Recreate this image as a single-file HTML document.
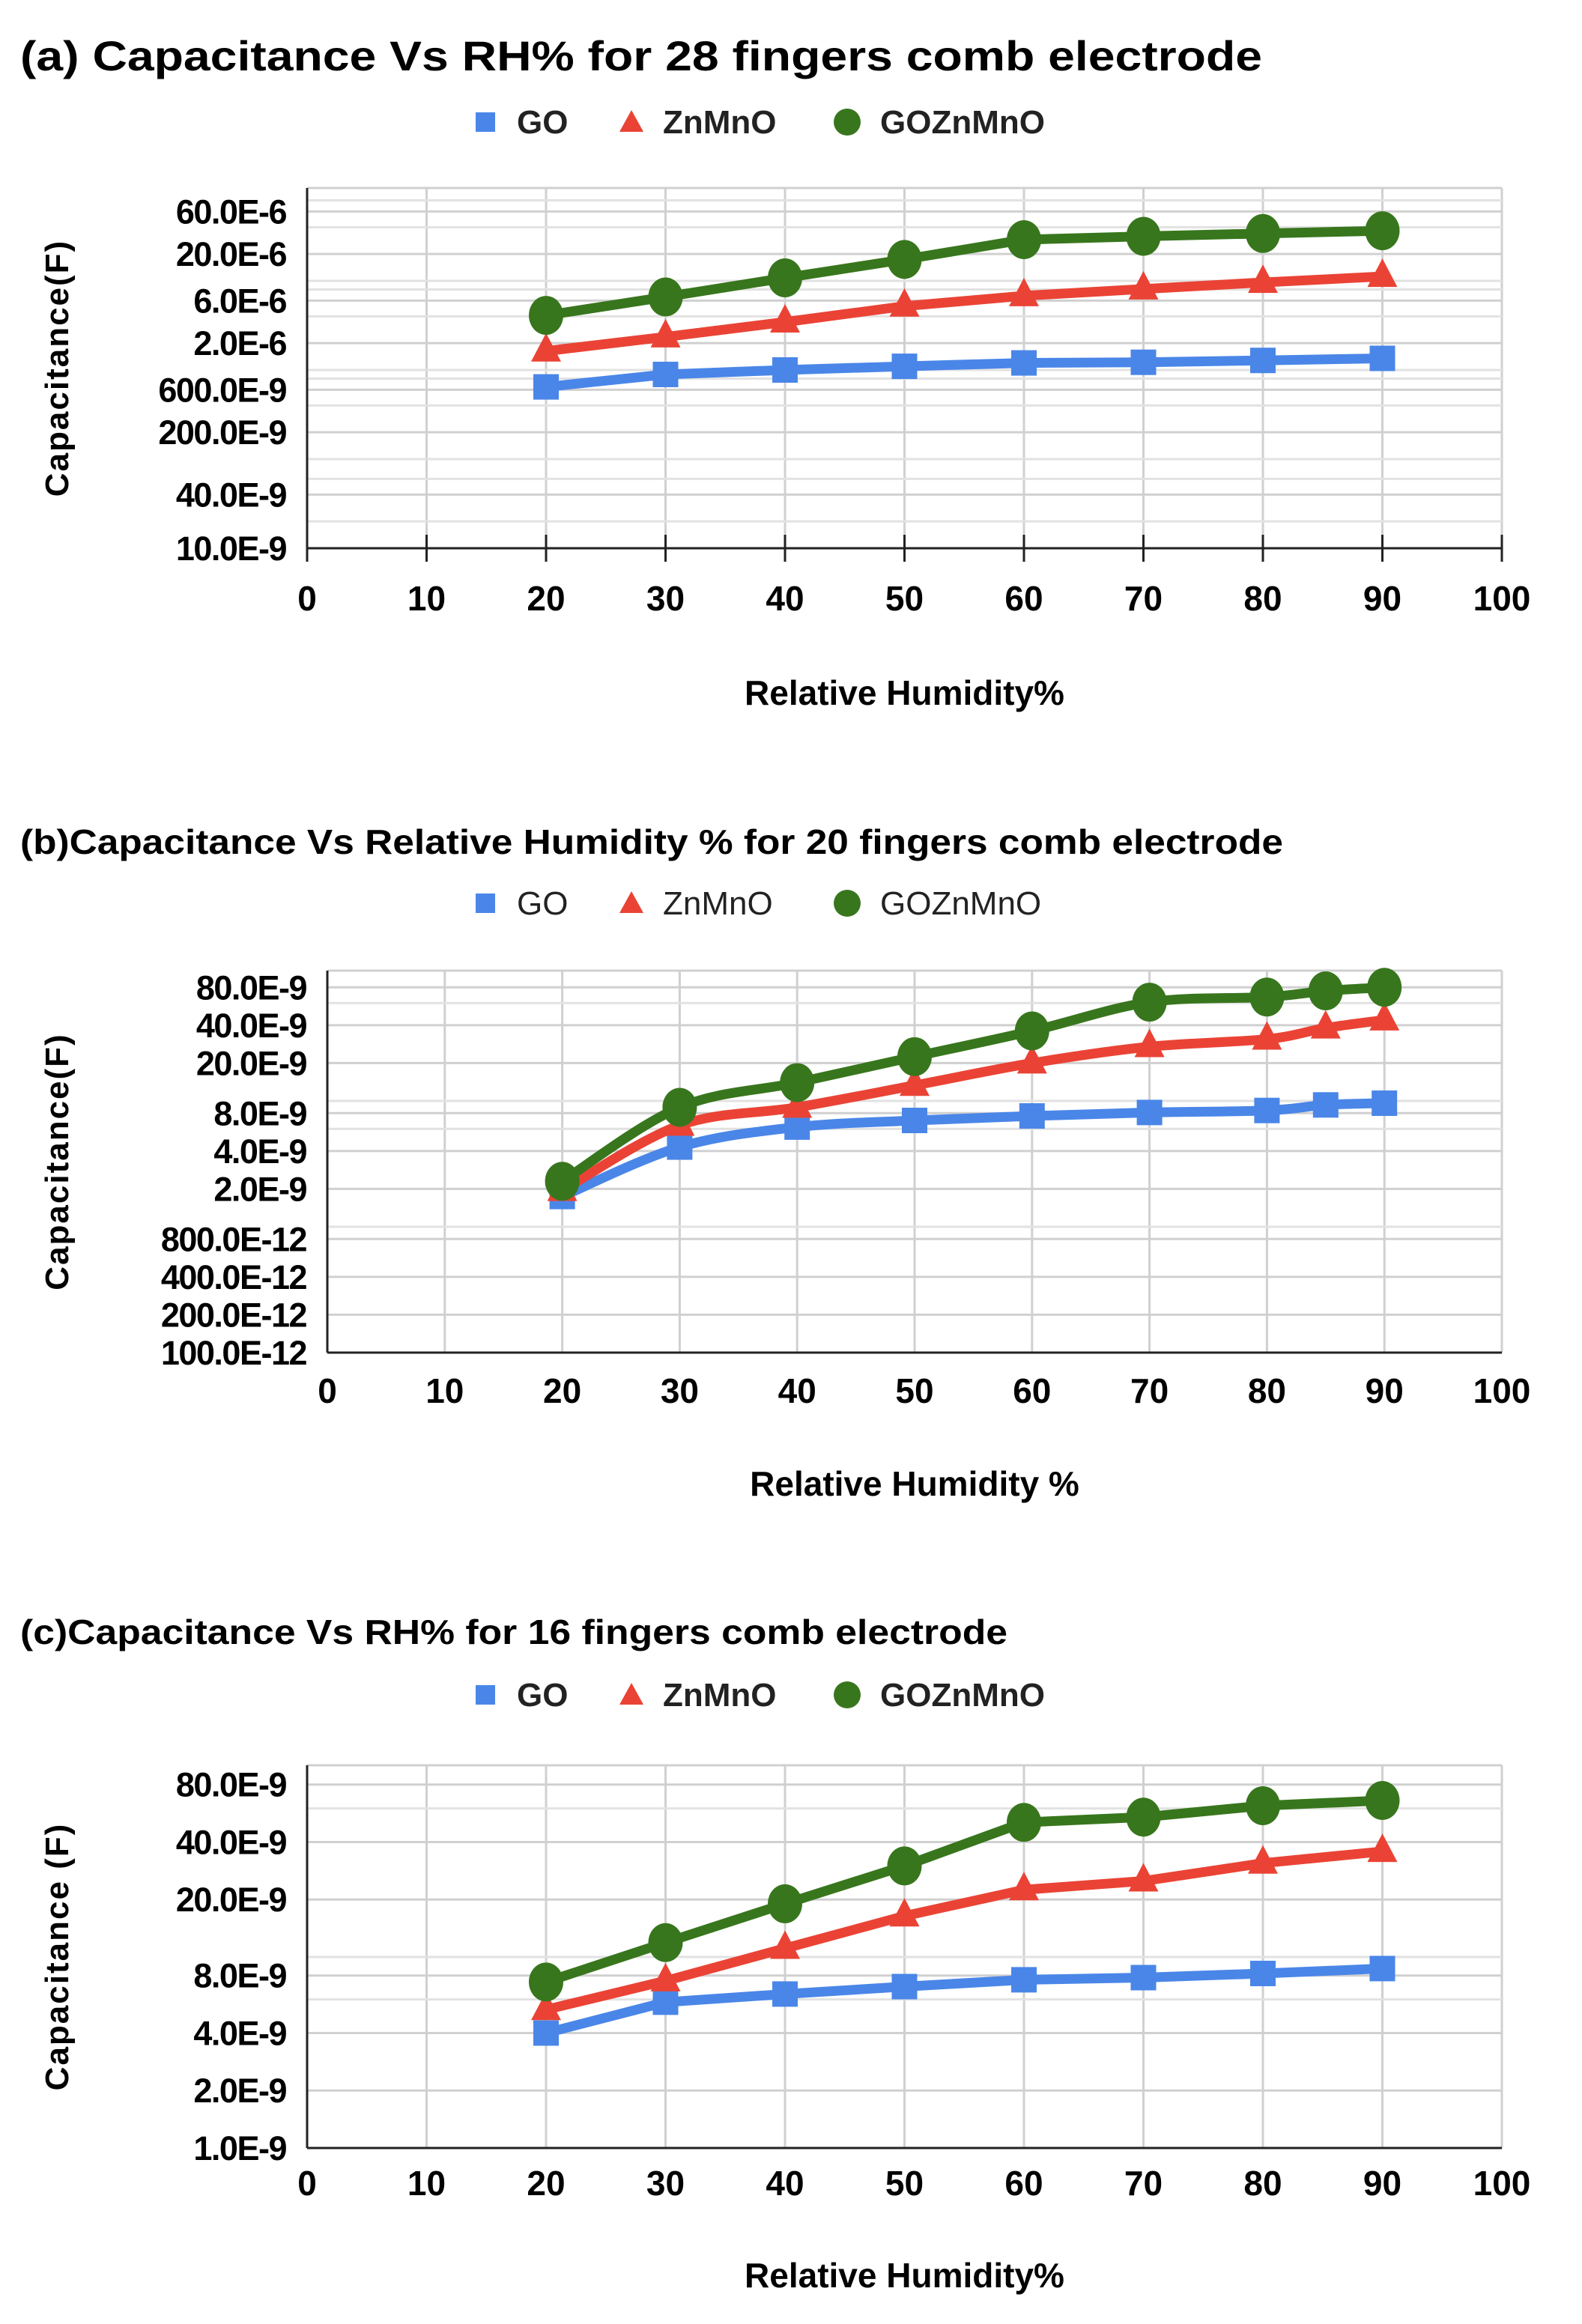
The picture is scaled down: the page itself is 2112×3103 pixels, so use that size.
<!DOCTYPE html>
<html><head><meta charset="utf-8"><style>
html,body{margin:0;padding:0;background:#fff;}
svg{display:block;font-family:"Liberation Sans",Arial,sans-serif;}
</style></head><body>
<svg id="root" width="2112" height="3103" viewBox="0 0 2112 3103" xmlns="http://www.w3.org/2000/svg"></svg>
<script>
// ---------- Data ----------
const xTicks = [0,10,20,30,40,50,60,70,80,90,100];
const seriesNames = ["GO","ZnMnO","GOZnMnO"];

const aX = [20,30,40,50,60,70,80,90];
const aGO = [646e-9,891e-9,1.0e-6,1.1e-6,1.2e-6,1.22e-6,1.28e-6,1.35e-6];
const aZn = [1.63e-6,2.35e-6,3.45e-6,5.2e-6,6.8e-6,8.1e-6,9.6e-6,11.2e-6];
const aGZ = [4.1e-6,6.6e-6,10.8e-6,17.4e-6,29e-6,31.6e-6,34e-6,36.5e-6];
const aYTickVals = [10e-9,40e-9,200e-9,600e-9,2e-6,6e-6,20e-6,60e-6];
const aYTickLabels = ["10.0E-9","40.0E-9","200.0E-9","600.0E-9","2.0E-6","6.0E-6","20.0E-6","60.0E-6"];
const aMinor = [20e-9,60e-9,100e-9,400e-9,800e-9,1e-6,4e-6,8e-6,10e-6,40e-6,80e-6];

const bX = [20,30,40,50,60,70,80,85,90];
const bGO = [1.74e-9,4.3e-9,6.2e-9,7.0e-9,7.6e-9,8.1e-9,8.4e-9,9.3e-9,9.6e-9];
const bZn = [1.94e-9,6.4e-9,8.9e-9,13.3e-9,20e-9,27e-9,31e-9,38e-9,44e-9];
const bGZ = [2.3e-9,8.9e-9,14e-9,22.5e-9,36e-9,61e-9,67e-9,75e-9,80e-9];
const bYTickVals = [100e-12,200e-12,400e-12,800e-12,2e-9,4e-9,8e-9,20e-9,40e-9,80e-9];
const bYTickLabels = ["100.0E-12","200.0E-12","400.0E-12","800.0E-12","2.0E-9","4.0E-9","8.0E-9","20.0E-9","40.0E-9","80.0E-9"];
const bMinor = [1e-9,6e-9,10e-9,60e-9];

const cX = [20,30,40,50,60,70,80,90];
const cGO = [4.0e-9,5.8e-9,6.4e-9,7.0e-9,7.6e-9,7.8e-9,8.2e-9,8.7e-9];
const cZn = [5.3e-9,7.5e-9,11.1e-9,16.4e-9,22.5e-9,25e-9,31e-9,35.7e-9];
const cGZ = [7.4e-9,11.9e-9,19e-9,30e-9,50.7e-9,54e-9,62e-9,66e-9];
const cYTickVals = [1e-9,2e-9,4e-9,8e-9,20e-9,40e-9,80e-9];
const cYTickLabels = ["1.0E-9","2.0E-9","4.0E-9","8.0E-9","20.0E-9","40.0E-9","80.0E-9"];
const cMinor = [6e-9,10e-9,60e-9];

const COLORS = {GO:"#4a86e8",ZnMnO:"#ea4335",GOZnMnO:"#38761d"};
const NS = "http://www.w3.org/2000/svg";
const root = document.getElementById('root');

function mk(tag, attrs, parent){
  const e = document.createElementNS(NS, tag);
  for (const k in attrs) e.setAttribute(k, attrs[k]);
  (parent||root).appendChild(e);
  return e;
}
function txt(str, attrs, parent){
  const t = mk('text', attrs, parent);
  t.textContent = str;
  return t;
}

function smoothPath(pts){
  let d = `M${pts[0][0]},${pts[0][1]}`;
  for (let i=0;i<pts.length-1;i++){
    const p0 = pts[Math.max(0,i-1)], p1 = pts[i], p2 = pts[i+1], p3 = pts[Math.min(pts.length-1,i+2)];
    const c1x = p1[0]+(p2[0]-p0[0])/6, c1y = p1[1]+(p2[1]-p0[1])/6;
    const c2x = p2[0]-(p3[0]-p1[0])/6, c2y = p2[1]-(p3[1]-p1[1])/6;
    d += ` C${c1x},${c1y} ${c2x},${c2y} ${p2[0]},${p2[1]}`;
  }
  return d;
}

function chart(cfg){
  const g = mk('g', {});
  
  
  const {x0,x1,yTop,yBot,yMinVal,pxPerDec} = cfg;
  const xs = v => x0 + (v/100)*(x1-x0);
  const ys = v => yBot - (Math.log10(v) - Math.log10(yMinVal))*pxPerDec;

  const t = txt(cfg.title, {x:27, y:cfg.titleY, 'font-size':cfg.titleSize, 'font-weight':'bold', fill:'#000', textLength:cfg.titleW, lengthAdjust:'spacingAndGlyphs'}, g);
  
  

  const lg = mk('g', {}, g);
  
  
  const ly = cfg.legendY;
  const lw = cfg.legendBold ? 'bold' : 'normal';
  const e1 = mk('g', {}, lg);
  
  
  mk('rect', {x:635, y:ly-13, width:26, height:26, fill:COLORS.GO}, e1);
  txt("GO", {x:690, y:ly+15, 'font-size':44, 'font-weight':lw, fill:'#222'}, e1);
  const e2 = mk('g', {}, lg);
  
  
  mk('polygon', {points:`${843},${ly-16} ${859},${ly+13} ${827},${ly+13}`, fill:COLORS.ZnMnO}, e2);
  txt("ZnMnO", {x:885, y:ly+15, 'font-size':44, 'font-weight':lw, fill:'#222'}, e2);
  const e3 = mk('g', {}, lg);
  
  
  mk('circle', {cx:1131, cy:ly, r:18, fill:COLORS.GOZnMnO}, e3);
  txt("GOZnMnO", {x:1175, y:ly+15, 'font-size':44, 'font-weight':lw, fill:'#222'}, e3);

  const grid = mk('g', {stroke:'#d0d0d0','stroke-width':3}, g);
  
  
  xTicks.forEach(v => { if (v>0) mk('line', {x1:xs(v), x2:xs(v), y1:yTop, y2:yBot}, grid); });
  mk('line', {x1:x0, x2:x1, y1:yTop, y2:yTop}, grid);
  cfg.minor.forEach(v => { const y=ys(v); if (y>yTop && y<yBot) mk('line', {x1:x0, x2:x1, y1:y, y2:y, stroke:'#e2e2e2'}, grid); });
  cfg.yTickVals.forEach(v => mk('line', {x1:x0, x2:x1, y1:ys(v), y2:ys(v)}, grid));

  const ax = mk('g', {stroke:'#222','stroke-width':3}, g);
  
  
  mk('line', {x1:x0, x2:x1, y1:yBot, y2:yBot}, ax);
  mk('line', {x1:x0, x2:x0, y1:yTop, y2:yBot}, ax);
  if (cfg.xTickMarks) xTicks.forEach(v => mk('line', {x1:xs(v), x2:xs(v), y1:yBot-18, y2:yBot+18}, ax));

  xTicks.forEach(v => {
    const l = txt(String(v), {x:xs(v), y:cfg.xLabY, 'font-size':46, 'font-weight':'bold', 'text-anchor':'middle', fill:'#000'}, g);
    
    
  });
  cfg.yTickVals.forEach((v,i) => {
    const l = txt(cfg.yTickLabels[i], {x:x0-28, y:ys(v)+16, 'font-size':45, 'font-weight':'bold', 'text-anchor':'end', fill:'#000', 'letter-spacing':-1.5}, g);
    
    
  });
  const xt = txt(cfg.xTitle, {x:(x0+x1)/2, y:cfg.xTitleY, 'font-size':46, 'font-weight':'bold', 'text-anchor':'middle', fill:'#000'}, g);
  
  
  const ym = (yTop+yBot)/2;
  const yt = txt(cfg.yTitle, {x:0, y:0, 'font-size':44, 'font-weight':'bold', 'text-anchor':'middle', fill:'#000', transform:`translate(91,${ym}) rotate(-90)`, 'letter-spacing':2}, g);
  
  

  const data = [["GO",cfg.go],["ZnMnO",cfg.zn],["GOZnMnO",cfg.gz]];
  data.forEach(([name, vals]) => {
    const sg = mk('g', {}, g);
    
    
    const pts = cfg.xs.map((xv,i) => [xs(xv), ys(vals[i])]);
    const d = cfg.smooth ? smoothPath(pts) : 'M' + pts.map(p=>p.join(',')).join(' L');
    const line = mk('path', {d, fill:'none', stroke:COLORS[name], 'stroke-width':13, 'stroke-linejoin':'round', 'stroke-linecap':'round'}, sg);
    
    
    pts.forEach(([px,py]) => {
      let m;
      if (name === "GO") m = mk('rect', {x:px-17, y:py-17, width:34, height:34, fill:COLORS[name]}, sg);
      else if (name === "ZnMnO") m = mk('polygon', {points:`${px},${py-24} ${px+20},${py+14} ${px-20},${py+14}`, fill:COLORS[name]}, sg);
      else m = mk('ellipse', {cx:px, cy:py, rx:23, ry:26, fill:COLORS[name]}, sg);
      
      
    });
  });
}

chart({name:'chart-a-28-fingers', title:'(a) Capacitance Vs RH% for 28 fingers comb electrode', titleY:94, titleSize:56, titleW:1658,
  legendY:163, legendBold:true,
  x0:410, x1:2005, yTop:251, yBot:732, yMinVal:10e-9, pxPerDec:119,
  yTickVals:aYTickVals, yTickLabels:aYTickLabels, minor:aMinor,
  xs:aX, go:aGO, zn:aZn, gz:aGZ, smooth:false, xTickMarks:true,
  xLabY:815, xTitle:'Relative Humidity%', xTitleY:941, yTitle:'Capacitance(F)'});

chart({name:'chart-b-20-fingers', title:'(b)Capacitance Vs Relative Humidity % for 20 fingers comb electrode', titleY:1140, titleSize:46, titleW:1686,
  legendY:1206, legendBold:false,
  x0:437, x1:2005, yTop:1296, yBot:1806, yMinVal:100e-12, pxPerDec:168,
  yTickVals:bYTickVals, yTickLabels:bYTickLabels, minor:bMinor,
  xs:bX, go:bGO, zn:bZn, gz:bGZ, smooth:true, xTickMarks:false,
  xLabY:1873, xTitle:'Relative Humidity %', xTitleY:1997, yTitle:'Capacitance(F)'});

chart({name:'chart-c-16-fingers', title:'(c)Capacitance Vs RH% for 16 fingers comb electrode', titleY:2195, titleSize:46, titleW:1318,
  legendY:2263, legendBold:true,
  x0:410, x1:2005, yTop:2357, yBot:2868, yMinVal:1e-9, pxPerDec:255,
  yTickVals:cYTickVals, yTickLabels:cYTickLabels, minor:cMinor,
  xs:cX, go:cGO, zn:cZn, gz:cGZ, smooth:false, xTickMarks:false,
  xLabY:2931, xTitle:'Relative Humidity%', xTitleY:3054, yTitle:'Capacitance (F)'});
</script>
</body></html>
